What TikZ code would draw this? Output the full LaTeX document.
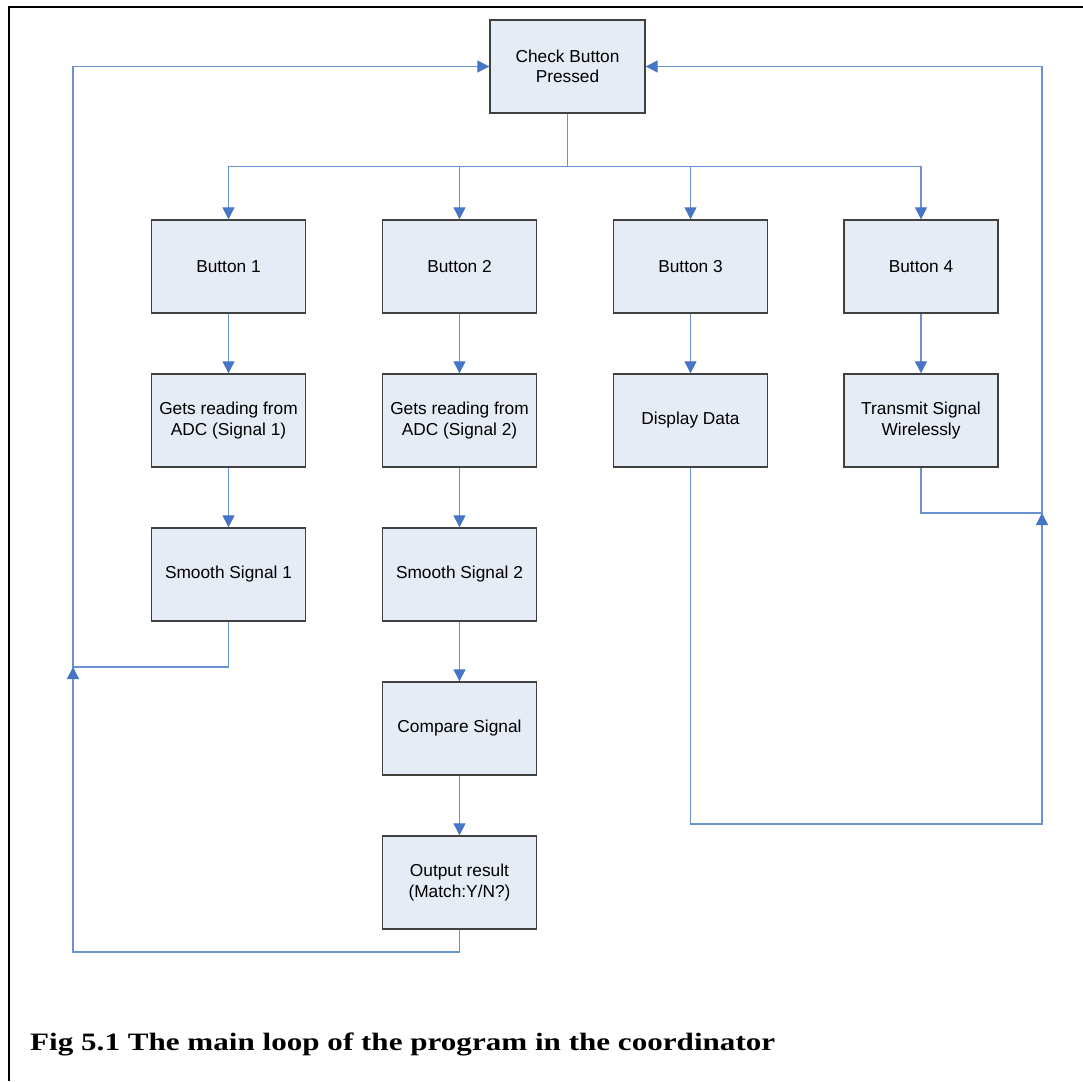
\documentclass[tikz,border=0pt]{standalone}
\usepackage{fontspec}
\usepackage{graphicx}
\usetikzlibrary{arrows.meta}
\newfontfamily\boxfont{Liberation Sans}
\newfontfamily\capfont{Liberation Serif}
\definecolor{boxfill}{HTML}{E6ECF6}
\definecolor{boxline}{HTML}{404040}
\definecolor{wire}{HTML}{6A92CE}
\definecolor{tipcol}{HTML}{4575C4}
\tikzset{
  stepbox/.style={draw=boxline, fill=boxfill, line width=1.4pt,
    minimum width=154pt, minimum height=93pt, inner sep=0pt,
    align=center, font=\boxfont\fontsize{17.3}{20.5}\selectfont},
  wireline/.style={draw=wire, line width=1.3pt},
  arr/.style={wireline, -{Triangle[length=12pt,width=12pt,fill=tipcol,color=tipcol]}},
}
\begin{document}
\begin{tikzpicture}[x=1pt,y=-1pt]
  \useasboundingbox (0,0) rectangle (1083,1081);
  % page frame
  \draw[line width=2.5pt] (9,1081) -- (9,7) -- (1083,7);

  % boxes
  \node[stepbox, minimum width=155pt] (top) at (567.5,66.5) {Check Button\\Pressed};

  \node[stepbox] (b1) at (228.5,266.5) {Button 1};
  \node[stepbox] (b2) at (459.5,266.5) {Button 2};
  \node[stepbox] (b3) at (690.5,266.5) {Button 3};
  \node[stepbox] (b4) at (921,266.5) {Button 4};

  \node[stepbox] (g1) at (228.5,420.5) {Gets reading from\\ADC (Signal 1)};
  \node[stepbox] (g2) at (459.5,420.5) {Gets reading from\\ADC (Signal 2)};
  \node[stepbox] (d3) at (690.5,420.5) {Display Data};
  \node[stepbox] (t4) at (921,420.5) {Transmit Signal\\Wirelessly};

  \node[stepbox] (s1) at (228.5,574.5) {Smooth Signal 1};
  \node[stepbox] (s2) at (459.5,574.5) {Smooth Signal 2};
  \node[stepbox] (c2) at (459.5,728.5) {Compare Signal};
  \node[stepbox] (o2) at (459.5,882.5) {Output result\\(Match:Y/N?)};

  % loop corners
  \coordinate (lt) at (73,66.5);
  \coordinate (lj) at (73,667);
  \coordinate (lb) at (73,952);
  \coordinate (rt) at (1042,66.5);
  \coordinate (rj) at (1042,513);
  \coordinate (rb) at (1042,824);

  % fan-out from the check box along the bus
  \foreach \b in {b1,b2,b3,b4}
    \draw[arr] (top.south) -- ++(0,53) -| (\b.north);

  % column chains
  \draw[arr] (b1) -- (g1);
  \draw[arr] (g1) -- (s1);
  \draw[arr] (b2) -- (g2);
  \draw[arr] (g2) -- (s2);
  \draw[arr] (s2) -- (c2);
  \draw[arr] (c2) -- (o2);
  \draw[arr] (b3) -- (d3);
  \draw[arr] (b4) -- (t4);

  % returns to the check box, left side
  \draw[arr] (s1.south) |- (lj) -- (lt) -- (top.west);
  \draw[arr] (o2.south) |- (lb) -- (lj);

  % returns to the check box, right side
  \draw[arr] (t4.south) |- (rj) -- (rt) -- (top.east);
  \draw[arr] (d3.south) |- (rb) -- (rj);

  % caption
  \node[anchor=base west, inner sep=0pt] (cap) at (30,1050)
    {\resizebox{745pt}{\height}{\capfont\bfseries\fontsize{25}{28}\selectfont Fig 5.1 The main loop of the program in the coordinator}};
\end{tikzpicture}
\end{document}
